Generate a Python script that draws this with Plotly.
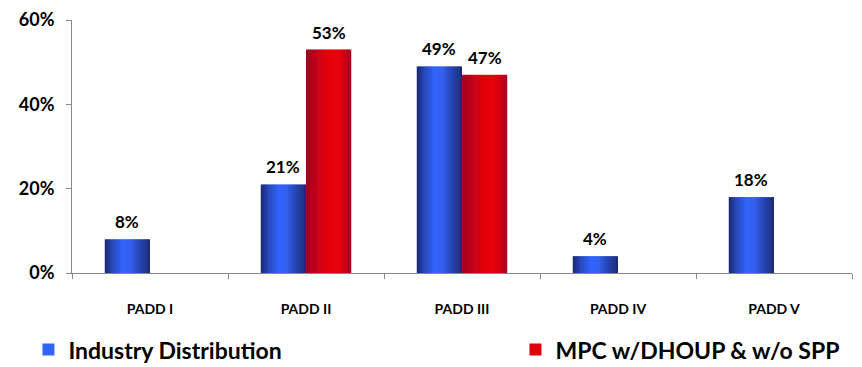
import plotly.graph_objects as go

categories = ["PADD I", "PADD II", "PADD III", "PADD IV", "PADD V"]
industry = [8, 21, 49, 4, 18]
mpc = [None, 53, 47, None, None]
series_names = ["Industry Distribution", "MPC w/DHOUP & w/o SPP"]
y_ticks = [0, 20, 40, 60]
y_tick_labels = ["0%", "20%", "40%", "60%"]

FONT = "Lato"
BAR_W = 0.29
N = 24


def lerp(c1, c2, t):
    return tuple(round(a + (b - a) * t) for a, b in zip(c1, c2))


def profile(stops, t):
    for (t0, c0), (t1, c1) in zip(stops, stops[1:]):
        if t0 <= t <= t1:
            return lerp(c0, c1, (t - t0) / (t1 - t0) if t1 > t0 else 0)
    return stops[-1][1]


blue_stops = [(0.0, (26, 42, 110)), (0.12, (34, 62, 170)), (0.4, (51, 102, 255)),
              (0.55, (48, 96, 240)), (0.85, (34, 60, 160)), (1.0, (26, 42, 110))]
red_stops = [(0.0, (160, 0, 32)), (0.2, (190, 0, 25)), (0.5, (230, 0, 8)),
             (0.75, (228, 0, 10)), (0.9, (195, 0, 25)), (1.0, (165, 0, 32))]

fig = go.Figure()
annotations = []


def add_series(values, start, stops, name, legend):
    step = BAR_W / N
    for i in range(N):
        t = (i + 0.5) / N
        col = "rgb(%d,%d,%d)" % profile(stops, t)
        w = step + (0.004 if i < N - 1 else 0)
        show = i == int(N * 0.45)
        fig.add_trace(go.Bar(
            x=categories, y=values, width=w, offset=start + i * step,
            marker=dict(color=col, line=dict(width=0)),
            name=name, legendgroup=name, showlegend=show, legend=legend,
            hoverinfo="skip",
        ))
    for idx, v in enumerate(values):
        if v is None:
            continue
        annotations.append(dict(
            x=idx + start + BAR_W / 2, y=v, xref="x", yref="y",
            text="%d%%" % v, showarrow=False, yanchor="bottom", yshift=5,
            font=dict(family=FONT, size=17, color="black", weight="bold"),
        ))


add_series(industry, -BAR_W, blue_stops, series_names[0], "legend")
add_series(mpc, 0.0, red_stops, series_names[1], "legend2")

legend_font = dict(family=FONT, size=23, color="black", weight="bold")
fig.update_layout(
    width=862, height=367,
    margin=dict(l=72, r=10, t=20, b=94, autoexpand=False),
    barmode="overlay",
    plot_bgcolor="white", paper_bgcolor="white",
    font=dict(family=FONT, color="black"),
    showlegend=True,
    annotations=annotations,
    legend=dict(
        orientation="h", x=0.033, xanchor="left", xref="container",
        y=-0.218, yanchor="top", yref="paper",
        font=legend_font, itemsizing="constant", bgcolor="rgba(0,0,0,0)",
    ),
    legend2=dict(
        orientation="h", x=0.598, xanchor="left", xref="container",
        y=-0.218, yanchor="top", yref="paper",
        font=legend_font, itemsizing="constant", bgcolor="rgba(0,0,0,0)",
    ),
)
fig.update_xaxes(
    type="category", categoryorder="array", categoryarray=categories,
    range=[-0.5, 4.5], showline=True, linecolor="#888888", linewidth=1,
    ticks="outside", tickson="boundaries", ticklen=5, tickcolor="#888888",
    ticklabelstandoff=23, showgrid=False, zeroline=False,
    tickfont=dict(family=FONT, size=14, color="black", weight="bold"),
)
fig.update_yaxes(
    range=[0, 60], tickvals=y_ticks, ticktext=y_tick_labels,
    showline=True, linecolor="#888888", linewidth=1,
    ticks="outside", ticklen=5, tickcolor="#888888", showgrid=False, zeroline=False,
    ticklabelstandoff=8,
    tickfont=dict(family=FONT, size=18, color="black", weight="bold"),
)

fig.write_html("out.html")
